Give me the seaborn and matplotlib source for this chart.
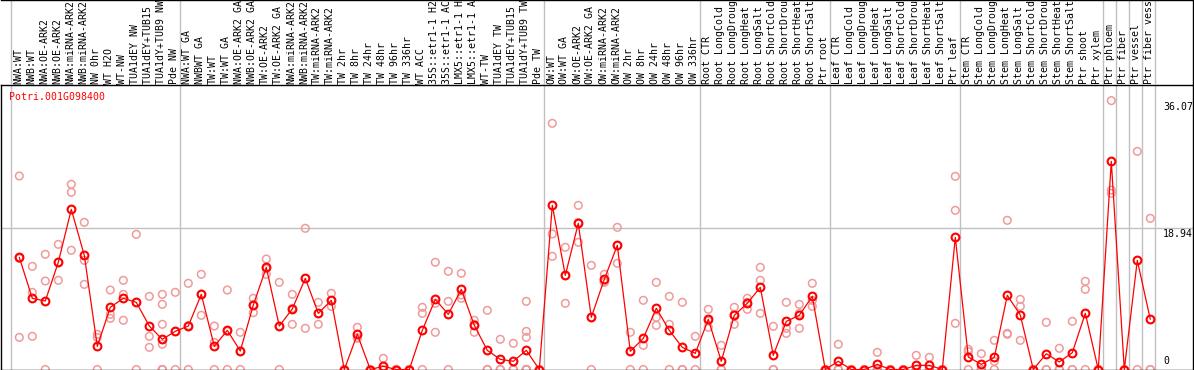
import numpy as np
import pandas as pd
import matplotlib
matplotlib.use("Agg")
import matplotlib.pyplot as plt
import seaborn as sns

# ---------------- data ----------------
labels = [
    "NWA:WT", "NWB:WT", "NWA:OE-ARK2", "NWB:OE-ARK2", "NWA:miRNA-ARK2", "NWB:miRNA-ARK2",
    "NW 0hr", "WT H2O", "WT-NW", "TUA1dEY NW", "TUA1dEY+TUB15 NW", "TUA1dY+TUB9 NW", "Pde NW",
    "NWA:WT GA", "NWBWT GA", "TW:WT", "TW:WT GA", "NWA:OE-ARK2 GA", "NWB:OE-ARK2 GA",
    "TW:OE-ARK2", "TW:OE-ARK2 GA", "NWA:miRNA-ARK2", "NWB:miRNA-ARK2", "TW:miRNA-ARK2",
    "TW:miRNA-ARK2", "TW 2hr", "TW 8hr", "TW 24hr", "TW 48hr", "TW 96hr", "TW 336hr",
    "WT ACC", "35S::etr1-1 H2O", "35S::etr1-1 ACC", "LMX5::etr1-1 H2O", "LMX5::etr1-1 ACC",
    "WT-TW", "TUA1dEY TW", "TUA1dEY+TUB15 TW", "TUA1dY+TUB9 TW", "Pde TW",
    "OW:WT", "OW:WT GA", "OW:OE-ARK2", "OW:OE-ARK2 GA", "OW:miRNA-ARK2", "OW:miRNA-ARK2",
    "OW 2hr", "OW 8hr", "OW 24hr", "OW 48hr", "OW 96hr", "OW 336hr",
    "Root CTR", "Root LongCold", "Root LongDrought", "Root LongHeat", "Root LongSalt",
    "Root ShortCold", "Root ShortDrought", "Root ShortHeat", "Root ShortSalt", "Ptr root",
    "Leaf CTR", "Leaf LongCold", "Leaf LongDrought", "Leaf LongHeat", "Leaf LongSalt",
    "Leaf ShortCold", "Leaf ShortDrought", "Leaf ShortHeat", "Leaf ShortSalt", "Ptr leaf",
    "Stem CTR", "Stem LongCold", "Stem LongDrought", "Stem LongHeat", "Stem LongSalt",
    "Stem ShortCold", "Stem ShortDrought", "Stem ShortHeat", "Stem ShortSalt", "Ptr shoot",
    "Ptr xylem", "Ptr phloem", "Ptr fiber", "Ptr vessel", "Ptr fiber vessel",
]

means = [
    15.05, 9.55, 9.19, 14.38, 21.48, 15.31, 3.11, 8.34, 9.55, 9.01, 5.83, 4.05, 5.12,
    5.83, 10.08, 3.11, 5.25, 2.48, 8.65, 13.70, 5.83, 8.12, 12.23, 7.53, 9.28, 0.0,
    4.72, 0.0, 0.43, 0.0, 0.0, 5.25, 9.41, 7.40, 10.75, 5.92, 2.57, 1.36, 1.10, 2.57, 0.0,
    22.02, 12.63, 19.61, 7.00, 12.10, 16.66, 2.44, 4.18, 8.21, 5.25, 2.97, 2.17,
    6.73, 1.10, 7.27, 8.88, 11.02, 1.90, 6.46, 7.27, 9.81, 0.0,
    1.10, 0.0, 0.0, 0.69, 0.0, 0.0, 0.56, 0.56, 0.0, 17.73,
    1.68, 0.69, 1.63, 9.95, 7.31, 0.0, 2.12, 1.01, 2.26, 7.53, 0.0,
    27.92, 0.0, 14.64, 6.73,
]

replicates = [
    [25.96, 14.9, 4.31], [13.84, 10.35, 4.45], [15.45, 11.87, 0.0], [16.79, 14.4, 11.96],
    [24.84, 23.77, 15.99], [19.74, 14.64, 11.42], [4.72, 4.3, 0.0], [10.66, 7.40, 6.86],
    [11.96, 10.08, 6.60], [18.13, 9.0, 0.0], [9.81, 4.45, 2.97],
    [10.08, 8.74, 6.06, 3.38, 0.0, 0.0, 0.0], [10.35, 5.1, 0.0],
    [11.56, 5.9, 0.0], [12.77, 10.1, 7.27], [5.83, 3.64, 0.0], [10.66, 5.1, 0.0],
    [4.99, 2.45, 0.0], [9.55, 8.7, 7.62], [14.82, 13.5, 12.77], [11.69, 5.8, 0.0],
    [10.08, 8.2, 6.06], [18.94, 12.2, 5.52], [9.01, 7.5, 6.06], [10.22, 9.2, 8.47],
    [0.0, 0.0, 0.0], [5.66, 4.3, 4.18], [0.0, 0.0, 0.0], [1.50, 0.0, 0.0], [0.0, 0.0, 0.0],
    [0.0, 0.0, 0.0], [8.34, 7.53, 0.0], [14.38, 8.88, 4.99], [13.17, 9.14, 0.0],
    [12.90, 10.0, 9.55], [6.6, 6.06, 4.99], [7.94, 0.0, 0.0], [4.05, 0.0, 0.0],
    [3.51, 0.0, 0.0], [9.14, 5.12, 4.31, 0.0, 0.0, 0.0, 0.0], [0.0, 0.0, 0.0],
    [33.02, 18.18, 15.18], [16.39, 12.6, 8.88], [22.02, 19.7, 17.06], [13.97, 7.0, 0.0],
    [12.77, 11.8, 11.69], [19.07, 16.6, 14.24], [4.99, 2.4, 0.0], [9.28, 3.24, 0.0],
    [11.69, 7.0, 5.92], [9.81, 6.06, 0.0], [9.01, 0.0, 0.0], [4.45, 2.1, 0.0],
    [8.07, 6.5, 5.66], [3.24, 0.0, 0.0], [8.34, 7.4, 6.06], [9.55, 9.0, 8.07],
    [13.70, 11.96, 7.53], [5.79, 0.0, 0.0], [9.01, 5.52, 4.85], [8.74, 7.53, 5.52],
    [11.56, 9.28, 8.47], [0.0, 0.0, 0.0],
    [3.38, 0.0, 0.0], [0.0, 0.0, 0.0], [0.0, 0.0, 0.0], [2.30, 0.0, 0.0], [0.0, 0.0, 0.0],
    [0.0, 0.0, 0.0], [1.90, 0.0, 0.0], [1.63, 0.0, 0.0], [0.0, 0.0, 0.0],
    [25.91, 21.35, 6.19],
    [2.71, 2.4, 0.0], [2.12, 0.0, 0.0], [3.91, 1.10, 0.0], [20.01, 4.85, 4.72],
    [9.41, 8.47, 3.91], [0.0, 0.0, 0.0], [6.33, 0.0, 0.0], [2.84, 0.0, 0.0],
    [6.46, 0.0, 0.0], [11.83, 10.75, 0.0], [0.0, 0.0, 0.0],
    [36.07, 24.06, 23.63], [0.0, 0.0], [29.26, 0.0], [20.28, 0.0, 0.0],
]

group_starts = [0, 13, 41, 53, 63, 73, 84, 85, 86, 87, 88]
ytick_values = [0, 18.94, 36.07]
ytick_labels = ["0", "18.94", "36.07"]
gene_id = "Potri.001G098400"

# ---------------- figure ----------------
W, H = 1194, 370
fig = plt.figure(figsize=(W / 100, H / 100), dpi=100)
sns.set_style("white")
plt.rcParams["font.family"] = ["DejaVu Sans Mono"]

FS = 7.1
GRAY = "#c0c0c0"
RED = "#ff0000"
PINK = "#f09a9a"

px_left, px_right = 1, 1193
plot_top, plot_bottom = 85, 369.5
ax = fig.add_axes([px_left / W, (H - plot_bottom) / H,
                   (px_right - px_left) / W, (plot_bottom - plot_top) / H])
ax_lab = fig.add_axes([px_left / W, (H - plot_top) / H,
                       (px_right - px_left) / W, plot_top / H])

x_idx = np.arange(len(means))
xlim = ((px_left - 19.3) / 13.0, (px_right - 19.3) / 13.0)
ylim = (0, (plot_bottom - plot_top) / 7.455)

rep_df = pd.DataFrame(
    [(i, v) for i, vals in enumerate(replicates) for v in vals], columns=["x", "value"]
)
mean_df = pd.DataFrame({"x": x_idx, "value": means})

# separators & grid
for g in group_starts:
    ax.axvline(g - 0.64, color=GRAY, lw=1.0, zorder=0)
    ax_lab.axvline(g - 0.64, color=GRAY, lw=1.0, zorder=0)
ax.axhline(18.94, color=GRAY, lw=1.0, zorder=0)

sns.scatterplot(data=rep_df, x="x", y="value", ax=ax, s=30, color=PINK,
                facecolors="none", edgecolor=PINK, linewidth=1.1, zorder=2,
                legend=False)
sns.lineplot(data=mean_df, x="x", y="value", ax=ax, color=RED, lw=0.9,
             marker="o", markersize=5.6, markerfacecolor="none",
             markeredgecolor=RED, markeredgewidth=1.5, zorder=3, legend=False)

ax.set_xlim(*xlim)
ax.set_ylim(*ylim)
ax.set_xticks([])
ax.set_yticks([])
ax.set_xlabel("")
ax.set_ylabel("")
for s in ax.spines.values():
    s.set_visible(True)
    s.set_color("black")
    s.set_linewidth(1.0)

# right side value labels
tr = matplotlib.transforms.blended_transform_factory(ax.transAxes, ax.transData)
xr = (1163 - px_left) / (px_right - px_left)
for v, t in zip(ytick_values, ytick_labels):
    if v == 0:
        ax.annotate(t, xy=(xr, v), xycoords=tr, xytext=(0, 3),
                    textcoords="offset pixels", fontsize=FS, ha="left",
                    va="bottom", color="black")
        continue
    ax.annotate(t, xy=(xr, v), xycoords=tr, xytext=(0, -1),
                textcoords="offset pixels", fontsize=FS, ha="left", va="top",
                color="black")

# title
ax.text((9.5 - px_left) / (px_right - px_left), (plot_bottom - 97) / (plot_bottom - plot_top),
        gene_id, transform=ax.transAxes, color=RED, fontsize=FS,
        ha="left", va="center")

# label area
ax_lab.set_xlim(*xlim)
ax_lab.set_ylim(0, plot_top)
ax_lab.set_xticks([])
ax_lab.set_yticks([])
ax_lab.patch.set_alpha(0)
ax_lab.spines["left"].set_visible(False)
ax_lab.spines["bottom"].set_visible(False)
ax_lab.spines["top"].set_visible(True)
ax_lab.spines["right"].set_visible(True)
for k in ("top", "right"):
    ax_lab.spines[k].set_color("black")
    ax_lab.spines[k].set_linewidth(1.0)
for i, lab in enumerate(labels):
    ax_lab.text(i - 0.1, 1.5, lab, rotation=90, ha="center", va="bottom",
                fontsize=FS, color="black", clip_on=False)

fig.savefig("out.png", dpi=100)
